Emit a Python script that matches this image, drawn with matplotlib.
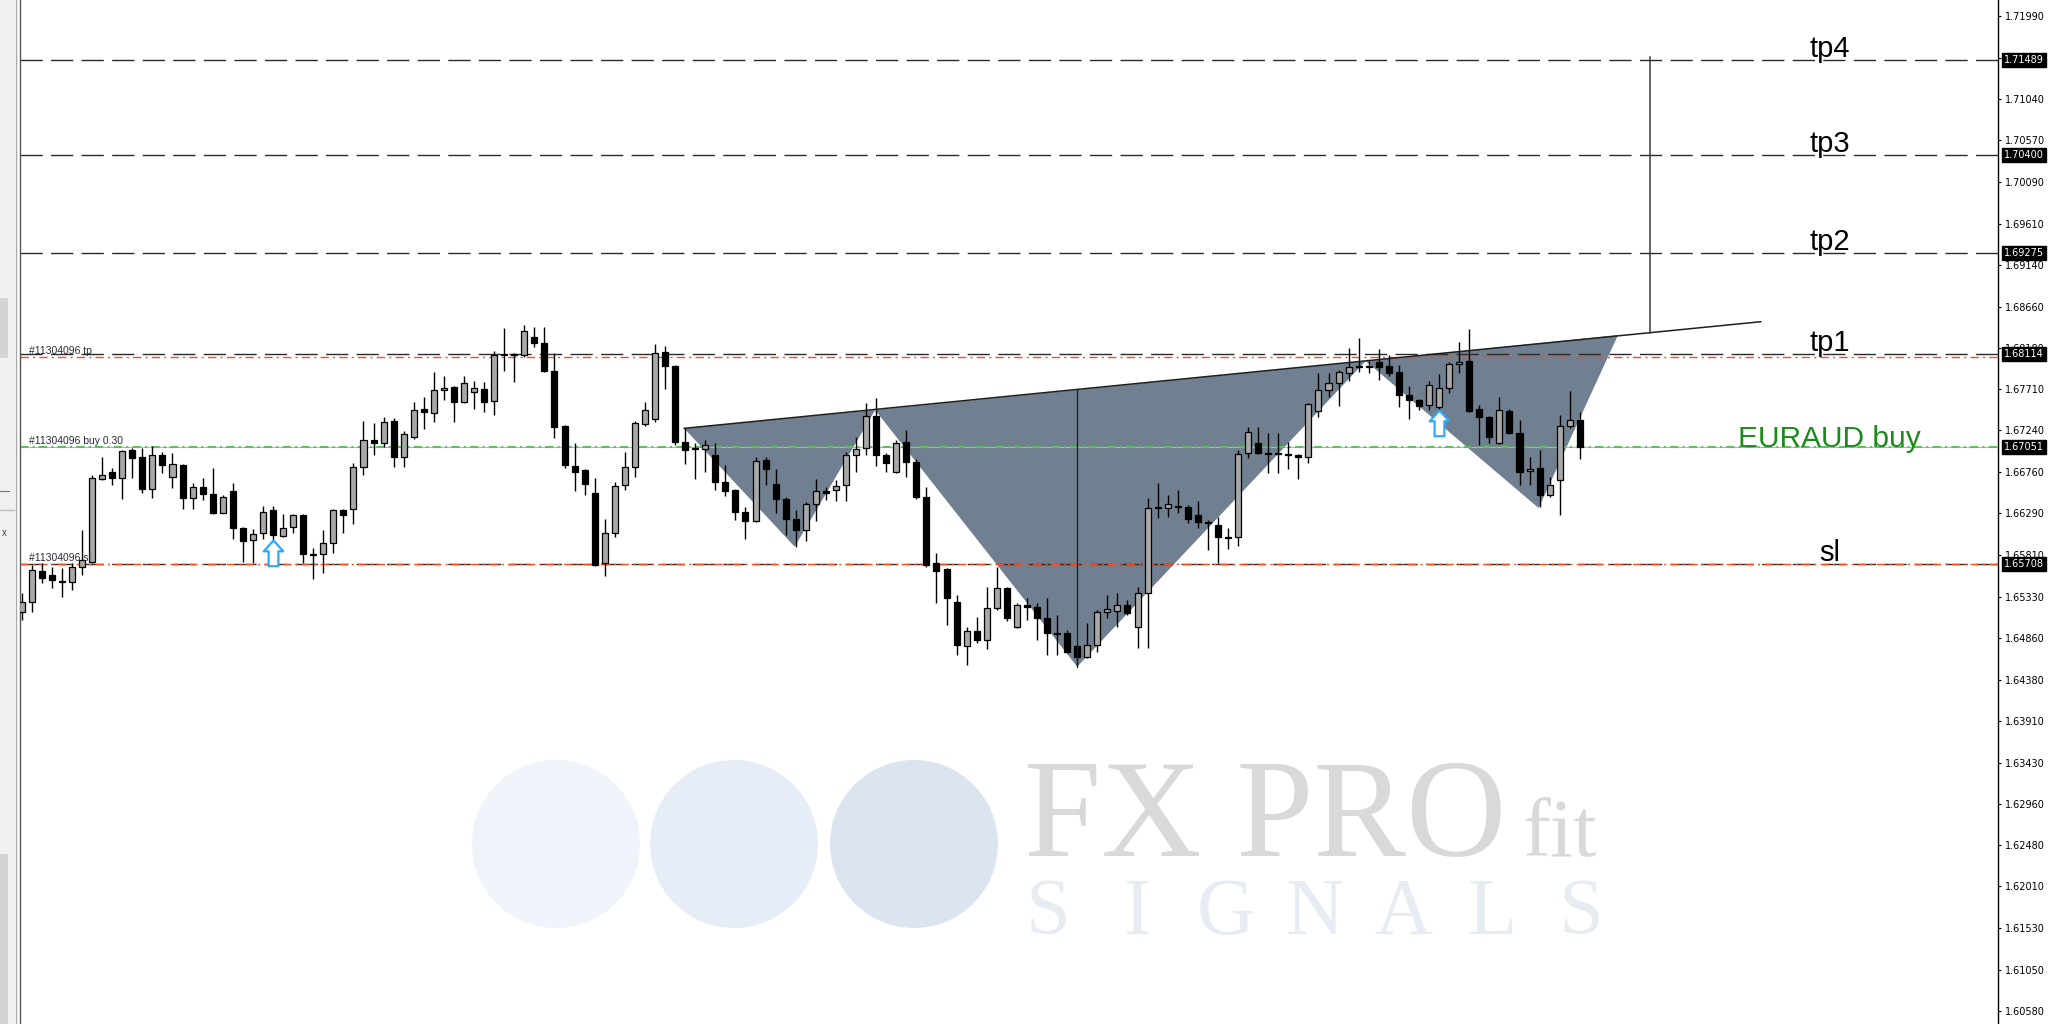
import numpy as np
import matplotlib
matplotlib.use('Agg')
import matplotlib.pyplot as plt
from matplotlib.path import Path
from matplotlib.patches import Polygon, Circle, Rectangle
from matplotlib.ticker import FormatStrFormatter

plt.rcParams['lines.scale_dashes'] = False
plt.rcParams['font.family'] = ['Liberation Sans', 'DejaVu Sans']

# EURAUD candles (oldest first)
opens = [
    1.6516, 1.6527, 1.6563, 1.6558, 1.6551, 1.6550, 1.6567, 1.6573, 1.6668, 1.6676,
    1.6669, 1.6702, 1.6694, 1.6657, 1.6696, 1.6671, 1.6684, 1.6647, 1.6659, 1.6651,
    1.6629, 1.6654, 1.6612, 1.6598, 1.6606, 1.6633, 1.6603, 1.6613, 1.6627, 1.6582,
    1.6582, 1.6595, 1.6633, 1.6634, 1.6682, 1.6713, 1.6710, 1.6735, 1.6694, 1.6717,
    1.6749, 1.6744, 1.6770, 1.6774, 1.6757, 1.6768, 1.6771, 1.6758, 1.6810, 1.6812,
    1.6810, 1.6831, 1.6824, 1.6792, 1.6729, 1.6683, 1.6679, 1.6652, 1.6572, 1.6606,
    1.6661, 1.6682, 1.6731, 1.6737, 1.6814, 1.6798, 1.6711, 1.6704, 1.6703, 1.6696,
    1.6665, 1.6656, 1.6630, 1.6620, 1.6690, 1.6663, 1.6645, 1.6622, 1.6610, 1.6640,
    1.6655, 1.6656, 1.6661, 1.6696, 1.6704, 1.6741, 1.6696, 1.6676, 1.6711, 1.6688,
    1.6648, 1.6572, 1.6565, 1.6527, 1.6477, 1.6494, 1.6484, 1.6520, 1.6543, 1.6498,
    1.6524, 1.6522, 1.6509, 1.6492, 1.6492, 1.6477, 1.6464, 1.6478, 1.6516, 1.6517,
    1.6524, 1.6498, 1.6537, 1.6635, 1.6635, 1.6637, 1.6636, 1.6627, 1.6619, 1.6616,
    1.6602, 1.6602, 1.6698, 1.6710, 1.6698, 1.6697, 1.6697, 1.6696, 1.6694, 1.6746,
    1.6770, 1.6778, 1.6790, 1.6797, 1.6798, 1.6802, 1.6798, 1.6791, 1.6765, 1.6759,
    1.6753, 1.6751, 1.6773, 1.6800, 1.6804, 1.6749, 1.6739, 1.6710, 1.6746, 1.6721,
    1.6677, 1.6681, 1.6650, 1.6667, 1.6729, 1.6736,
]
highs = [
    1.6538, 1.6570, 1.6572, 1.6567, 1.6566, 1.6572, 1.6610, 1.6673, 1.6694, 1.6681,
    1.6702, 1.6704, 1.6704, 1.6706, 1.6699, 1.6698, 1.6685, 1.6664, 1.6669, 1.6681,
    1.6650, 1.6664, 1.6613, 1.6611, 1.6637, 1.6637, 1.6628, 1.6628, 1.6628, 1.6589,
    1.6610, 1.6634, 1.6634, 1.6687, 1.6735, 1.6733, 1.6739, 1.6738, 1.6723, 1.6757,
    1.6762, 1.6791, 1.6786, 1.6775, 1.6786, 1.6781, 1.6780, 1.6815, 1.6841, 1.6813,
    1.6845, 1.6843, 1.6843, 1.6813, 1.6730, 1.6710, 1.6680, 1.6669, 1.6622, 1.6665,
    1.6699, 1.6735, 1.6757, 1.6823, 1.6821, 1.6799, 1.6727, 1.6710, 1.6713, 1.6710,
    1.6684, 1.6657, 1.6636, 1.6694, 1.6694, 1.6680, 1.6648, 1.6633, 1.6642, 1.6668,
    1.6659, 1.6667, 1.6699, 1.6717, 1.6755, 1.6761, 1.6698, 1.6713, 1.6725, 1.6691,
    1.6659, 1.6583, 1.6566, 1.6535, 1.6498, 1.6510, 1.6544, 1.6567, 1.6544, 1.6526,
    1.6532, 1.6526, 1.6532, 1.6512, 1.6495, 1.6478, 1.6503, 1.6518, 1.6535, 1.6537,
    1.6529, 1.6544, 1.6647, 1.6664, 1.6650, 1.6656, 1.6638, 1.6643, 1.6621, 1.6625,
    1.6612, 1.6702, 1.6728, 1.6728, 1.6721, 1.6721, 1.6711, 1.6697, 1.6755, 1.6790,
    1.6790, 1.6793, 1.6818, 1.6830, 1.6804, 1.6817, 1.6811, 1.6799, 1.6775, 1.6760,
    1.6781, 1.6789, 1.6802, 1.6825, 1.6840, 1.6753, 1.6740, 1.6762, 1.6749, 1.6736,
    1.6694, 1.6702, 1.6671, 1.6742, 1.6769, 1.6745,
]
lows = [
    1.6507, 1.6516, 1.6549, 1.6543, 1.6533, 1.6541, 1.6558, 1.6572, 1.6667, 1.6661,
    1.6645, 1.6669, 1.6652, 1.6647, 1.6675, 1.6658, 1.6634, 1.6634, 1.6644, 1.6628,
    1.6629, 1.6600, 1.6573, 1.6572, 1.6600, 1.6598, 1.6602, 1.6606, 1.6572, 1.6554,
    1.6561, 1.6583, 1.6606, 1.6617, 1.6673, 1.6696, 1.6705, 1.6682, 1.6682, 1.6714,
    1.6726, 1.6734, 1.6759, 1.6734, 1.6756, 1.6749, 1.6745, 1.6742, 1.6792, 1.6780,
    1.6808, 1.6820, 1.6791, 1.6715, 1.6681, 1.6654, 1.6650, 1.6569, 1.6557, 1.6602,
    1.6656, 1.6671, 1.6729, 1.6734, 1.6771, 1.6707, 1.6686, 1.6668, 1.6676, 1.6656,
    1.6649, 1.6621, 1.6600, 1.6619, 1.6661, 1.6629, 1.6604, 1.6590, 1.6597, 1.6620,
    1.6644, 1.6643, 1.6643, 1.6676, 1.6696, 1.6683, 1.6676, 1.6675, 1.6671, 1.6645,
    1.6567, 1.6526, 1.6501, 1.6466, 1.6455, 1.6480, 1.6473, 1.6518, 1.6505, 1.6497,
    1.6507, 1.6484, 1.6466, 1.6466, 1.6469, 1.6455, 1.6463, 1.6470, 1.6509, 1.6498,
    1.6512, 1.6475, 1.6475, 1.6623, 1.6625, 1.6629, 1.6618, 1.6612, 1.6587, 1.6572,
    1.6588, 1.6592, 1.6692, 1.6697, 1.6675, 1.6675, 1.6680, 1.6668, 1.6687, 1.6739,
    1.6762, 1.6752, 1.6781, 1.6791, 1.6790, 1.6782, 1.6786, 1.6751, 1.6737, 1.6747,
    1.6747, 1.6747, 1.6767, 1.6790, 1.6745, 1.6707, 1.6710, 1.6708, 1.6720, 1.6661,
    1.6661, 1.6636, 1.6648, 1.6627, 1.6727, 1.6691,
]
closes = [
    1.6527, 1.6564, 1.6555, 1.6552, 1.6550, 1.6567, 1.6575, 1.6669, 1.6673, 1.6669,
    1.6700, 1.6692, 1.6657, 1.6696, 1.6684, 1.6686, 1.6647, 1.6659, 1.6651, 1.6629,
    1.6648, 1.6612, 1.6597, 1.6605, 1.6630, 1.6604, 1.6612, 1.6627, 1.6582, 1.6581,
    1.6595, 1.6633, 1.6627, 1.6682, 1.6713, 1.6710, 1.6734, 1.6694, 1.6720, 1.6747,
    1.6745, 1.6770, 1.6773, 1.6757, 1.6778, 1.6773, 1.6757, 1.6811, 1.6812, 1.6810,
    1.6838, 1.6824, 1.6792, 1.6728, 1.6684, 1.6676, 1.6663, 1.6570, 1.6606, 1.6660,
    1.6682, 1.6733, 1.6747, 1.6813, 1.6798, 1.6711, 1.6702, 1.6703, 1.6707, 1.6665,
    1.6655, 1.6630, 1.6620, 1.6689, 1.6680, 1.6645, 1.6622, 1.6610, 1.6640, 1.6654,
    1.6652, 1.6660, 1.6696, 1.6703, 1.6741, 1.6696, 1.6687, 1.6710, 1.6688, 1.6648,
    1.6570, 1.6563, 1.6532, 1.6478, 1.6494, 1.6484, 1.6520, 1.6543, 1.6509, 1.6524,
    1.6522, 1.6509, 1.6492, 1.6491, 1.6470, 1.6464, 1.6478, 1.6516, 1.6519, 1.6524,
    1.6515, 1.6537, 1.6635, 1.6636, 1.6640, 1.6636, 1.6622, 1.6619, 1.6618, 1.6602,
    1.6601, 1.6697, 1.6722, 1.6698, 1.6697, 1.6698, 1.6696, 1.6694, 1.6754, 1.6770,
    1.6778, 1.6791, 1.6797, 1.6798, 1.6797, 1.6797, 1.6790, 1.6765, 1.6759, 1.6752,
    1.6776, 1.6773, 1.6800, 1.6803, 1.6746, 1.6739, 1.6717, 1.6747, 1.6721, 1.6676,
    1.6680, 1.6650, 1.6661, 1.6729, 1.6736, 1.6705,
]

# levels
tp_names = ['tp4', 'tp3', 'tp2', 'tp1']
tp_levels = [1.71489, 1.70400, 1.69275, 1.68114]
order_tp = 1.68080
order_buy = 1.67051
order_sl = 1.65708
order_id = '#11304096'

price_ticks = [1.60580, 1.61050, 1.61530, 1.62010, 1.62480, 1.62960, 1.63430,
               1.63910, 1.64380, 1.64860, 1.65330, 1.65810, 1.66290, 1.66760,
               1.67240, 1.67710, 1.68180, 1.68660, 1.69140, 1.69610, 1.70090,
               1.70570, 1.71040, 1.71510, 1.71990]
boxed_prices = [1.71489, 1.70400, 1.69275, 1.68114, 1.67051, 1.65708]

# head & shoulders drawing (bar index, price)
shoulder_left = [(65.9, 1.67264), (76.9, 1.65906), (84.9, 1.67474)]
head = [(84.9, 1.67474), (105.0, 1.64530), (133.7, 1.68036)]
shoulder_right = [(133.7, 1.68036), (150.9, 1.66350), (158.8, 1.68334)]
neck_x = [65.9, 173.0]
neck_y = [1.67264, 1.68487]
head_x = 105.0
head_y = [1.64530, 1.67704]
target_x = 162.0
target_y = [1.68357, 1.71527]
arrow_bars = [25, 141]


def main():
    fig = plt.figure(figsize=(20.48, 10.24), dpi=100, facecolor='white')

    # background layer in pixel units (terminal side panel + watermark)
    bg = fig.add_axes([0, 0, 1, 1], zorder=0)
    bg.set_xlim(0, 2048)
    bg.set_ylim(1024, 0)
    bg.axis('off')
    bg.add_patch(Rectangle((0, 0), 15, 1024, fc='#f0f0f0', ec='none'))
    bg.add_patch(Rectangle((0, 298), 8, 60, fc='#d4d4d4', ec='none'))
    bg.add_patch(Rectangle((0, 854), 8, 170, fc='#d4d4d4', ec='none'))
    bg.plot([0, 14], [510, 510], color='#bdbdbd', lw=1)
    bg.plot([0, 9], [491, 491], color='#777777', lw=0.8)
    bg.text(4, 533, 'x', fontsize=7, color='#444444', ha='center', va='center')
    bg.plot([15.5, 15.5], [0, 1024], color='#a8a8a8', lw=1)

    circle_colors = ['#eff4fa', '#e6edf6', '#dce4ef']
    for cx, col in zip([556, 734, 914], circle_colors):
        bg.add_patch(Circle((cx, 844), 84, fc=col, ec='none'))
    bg.text(1024, 856, 'FX PRO', fontsize=100, family='Liberation Serif',
            color='#d9d9d9', ha='left', va='baseline')
    bg.text(1522, 856, 'fit', fontsize=60, family='Liberation Serif',
            color='#d9d9d9', ha='left', va='baseline')
    for lx, ch in zip(np.linspace(1048, 1581, 7), 'SIGNALS'):
        bg.text(lx, 934, ch, fontsize=58, family='Liberation Serif',
                color='#e7ecf3', ha='center', va='baseline')

    # chart
    ax = fig.add_axes([20 / 2048, 0, 1978 / 2048, 1], zorder=1)
    ax.set_facecolor('none')
    ax.set_xlim(-0.17, 196.6)
    ax.set_ylim(1.60432, 1.72177)
    for s in ['top', 'bottom']:
        ax.spines[s].set_visible(False)
    ax.spines['left'].set_color('#555555')
    ax.spines['left'].set_linewidth(1.0)
    ax.spines['right'].set_color('black')
    ax.spines['right'].set_linewidth(1.0)
    ax.set_xticks([])
    ax.yaxis.tick_right()
    ax.set_yticks(price_ticks)
    ax.yaxis.set_major_formatter(FormatStrFormatter('%.5f'))
    ax.tick_params(axis='y', direction='out', length=2.5, width=0.8,
                   pad=2.5, labelsize=7, colors='black')
    for lab in ax.get_yticklabels():
        lab.set_family('DejaVu Sans')

    # pattern fills behind candles
    for tri in (shoulder_left, head, shoulder_right):
        ax.add_patch(Polygon(tri, closed=True, fc='#708090', ec='none', zorder=1))

    # level lines
    for lvl in tp_levels:
        ax.axhline(lvl, color='#2a2a2a', lw=1.0, dashes=(16, 6), zorder=2)
    ax.axhline(order_sl, color='#2a2a2a', lw=1.0, dashes=(16, 6), zorder=2)
    ax.axhline(order_tp, color='#ff4a1c', lw=1.0, dashes=(6, 3, 1.5, 3), zorder=2)
    ax.axhline(order_sl, color='#ff4a1c', lw=1.0, dashes=(6, 3, 1.5, 3), zorder=2.1)
    ax.axhline(order_buy, color='#b4b4b4', lw=0.8, zorder=2)
    ax.axhline(order_buy, color='#55c455', lw=1.4, dashes=(6, 3, 1.5, 3), zorder=2.1)

    # candles
    o = np.array(opens)
    h = np.array(highs)
    lo = np.array(lows)
    c = np.array(closes)
    x = np.arange(len(o))
    up = c > o
    ax.vlines(x, lo, h, color='black', lw=1.0, zorder=3)
    ax.bar(x, np.abs(c - o), bottom=np.minimum(o, c), width=0.6,
           color=np.where(up, '#a8a8a8', 'black'), edgecolor='black',
           linewidth=0.9, zorder=4)

    # neckline, head and target lines
    ax.plot(neck_x, neck_y, color='#1e1e1e', lw=1.1, zorder=5)
    ax.plot([head_x, head_x], head_y, color='#1e1e1e', lw=0.9, zorder=5)
    ax.plot([target_x, target_x], target_y, color='#3a3a3a', lw=1.1, zorder=5)

    # hollow up arrows under signal bars
    verts = [(0, 0), (0.38, -0.42), (0.19, -0.42), (0.19, -1), (-0.19, -1),
             (-0.19, -0.42), (-0.38, -0.42), (0, 0)]
    codes = [Path.MOVETO] + [Path.LINETO] * 6 + [Path.CLOSEPOLY]
    arrow = Path(verts, codes)
    ax.plot(arrow_bars, lo[arrow_bars], ls='none', marker=arrow, markersize=37,
            mfc='white', mec='#2ea8ff', mew=1.6, zorder=6)

    # level names
    for name, lvl in zip(tp_names, tp_levels):
        ax.annotate(name, xy=(0.915, lvl), xycoords=('axes fraction', 'data'),
                    xytext=(0, 2), textcoords='offset points', ha='center',
                    va='baseline', fontsize=21, color='black', zorder=7)
    ax.annotate('sl', xy=(0.915, order_sl), xycoords=('axes fraction', 'data'),
                xytext=(0, 2), textcoords='offset points', ha='center',
                va='baseline', fontsize=21, color='black', zorder=7)
    ax.annotate('EURAUD buy', xy=(0.915, order_buy),
                xycoords=('axes fraction', 'data'), xytext=(0, 0),
                textcoords='offset points', ha='center', va='baseline',
                fontsize=21.5, color='#1a8c1a', zorder=7)

    # order labels on the left
    for txt, lvl in [(order_id + ' tp', order_tp),
                     (order_id + ' buy 0.30', order_buy),
                     (order_id + ' sl', order_sl)]:
        ax.annotate(txt, xy=(0.0046, lvl), xycoords=('axes fraction', 'data'),
                    xytext=(0, 2), textcoords='offset points', ha='left',
                    va='baseline', fontsize=7.5, color='#2a2a3a', zorder=7)

    # price boxes on the scale
    for p in boxed_prices:
        ax.annotate('%.5f' % p, xy=(1, p), xycoords=('axes fraction', 'data'),
                    xytext=(4.2, 0), textcoords='offset points', ha='left',
                    va='center', fontsize=7, color='white', family='DejaVu Sans',
                    annotation_clip=False, zorder=10,
                    bbox=dict(boxstyle='square,pad=0.22', fc='black', ec='black'))

    fig.savefig('out.png', dpi=100)


if __name__ == '__main__':
    main()
